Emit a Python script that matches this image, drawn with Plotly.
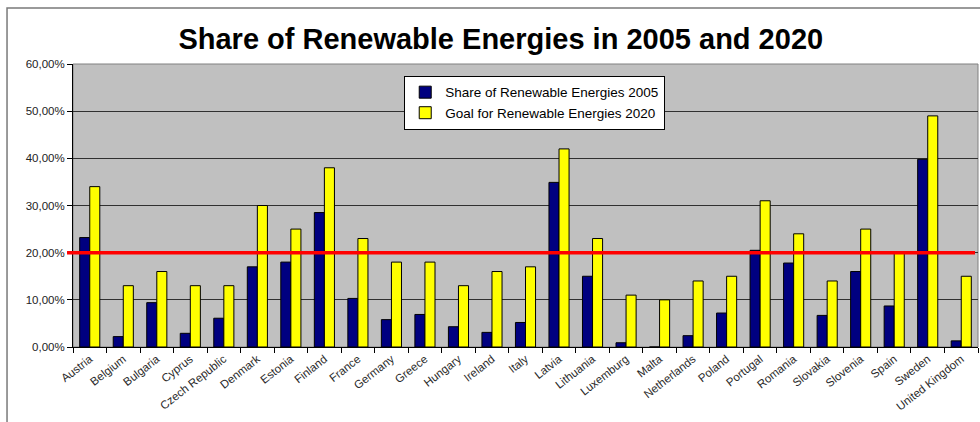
import plotly.graph_objects as go

countries = ["Austria", "Belgium", "Bulgaria", "Cyprus", "Czech Republic", "Denmark", "Estonia",
             "Finland", "France", "Germany", "Greece", "Hungary", "Ireland", "Italy", "Latvia",
             "Lithuania", "Luxemburg", "Malta", "Netherlands", "Poland", "Portugal", "Romania",
             "Slovakia", "Slovenia", "Spain", "Sweden", "United Kingdom"]
share_2005 = [23.2, 2.2, 9.4, 2.9, 6.1, 17.0, 18.0, 28.5, 10.3, 5.8, 6.9, 4.3, 3.1, 5.2, 34.9,
              15.0, 0.9, 0.0, 2.4, 7.2, 20.5, 17.8, 6.7, 16.0, 8.7, 39.8, 1.3]
goal_2020 = [34, 13, 16, 13, 13, 30, 25, 38, 23, 18, 18, 13, 16, 17, 42,
             23, 11, 10, 14, 15, 31, 24, 14, 25, 20, 49, 15]
tick_vals = [0, 10, 20, 30, 40, 50, 60]
tick_text = ["0,00%", "10,00%", "20,00%", "30,00%", "40,00%", "50,00%", "60,00%"]
target_line = 20

FONT = "Liberation Sans, Arial, sans-serif"

fig = go.Figure()
fig.add_trace(go.Bar(x=countries, y=share_2005, name="Share of Renewable Energies 2005",
                     marker=dict(color="#000080", line=dict(color="#000000", width=1))))
fig.add_trace(go.Bar(x=countries, y=goal_2020, name="Goal for Renewable Energies 2020",
                     marker=dict(color="#FFFF00", line=dict(color="#000000", width=1))))

# outer chart frame
fig.add_shape(type="rect", xref="paper", yref="paper", x0=-0.0729, x1=1.05, y0=-0.4, y1=1.198,
              line=dict(color="#7a7a7a", width=1.5), fillcolor="rgba(0,0,0,0)", layer="below")
# plot area border
fig.add_shape(type="rect", xref="paper", yref="paper", x0=0, x1=1, y0=0, y1=1,
              line=dict(color="#808080", width=1), fillcolor="rgba(0,0,0,0)", layer="below")
# 20% target line
fig.add_shape(type="line", xref="paper", yref="y", x0=-0.0066, x1=0.9967,
              y0=target_line, y1=target_line, line=dict(color="#FF0000", width=3.5), layer="above")

fig.update_layout(
    width=980, height=422,
    margin=dict(l=73, r=2, t=64, b=75),
    paper_bgcolor="white", plot_bgcolor="#C0C0C0",
    barmode="group", bargap=0.4, bargroupgap=0,
    font=dict(family=FONT, color="#000000"),
    title=dict(text="<b>Share of Renewable Energies in 2005 and 2020</b>",
               x=0.511, xanchor="center", xref="container",
               y=1 - 39 / 422, yanchor="middle", yref="container",
               font=dict(family=FONT, size=29, color="#000000")),
    legend=dict(x=0.366, y=0.958, xanchor="left", yanchor="top",
                bgcolor="white", bordercolor="#000000", borderwidth=1,
                font=dict(family=FONT, size=13.5, color="#000000"),
                itemwidth=30, tracegroupgap=0),
    showlegend=True,
)
fig.update_xaxes(type="category", tickson="boundaries", ticks="outside", ticklen=5,
                 tickcolor="#000000", showline=True, linecolor="#000000", linewidth=1,
                 tickangle=-38, tickfont=dict(family=FONT, size=11.5, color="#2a2a2a"),
                 showgrid=False, automargin=False)
fig.update_yaxes(range=[0, 60], tickvals=tick_vals, ticktext=tick_text, ticks="outside",
                 ticklen=5, tickcolor="#000000", showline=True, linecolor="#000000",
                 linewidth=1, showgrid=True, gridcolor="#303030", gridwidth=1,
                 tickfont=dict(family=FONT, size=11.5, color="#222222"),
                 zeroline=False, automargin=False)

fig.write_html("out.html")
